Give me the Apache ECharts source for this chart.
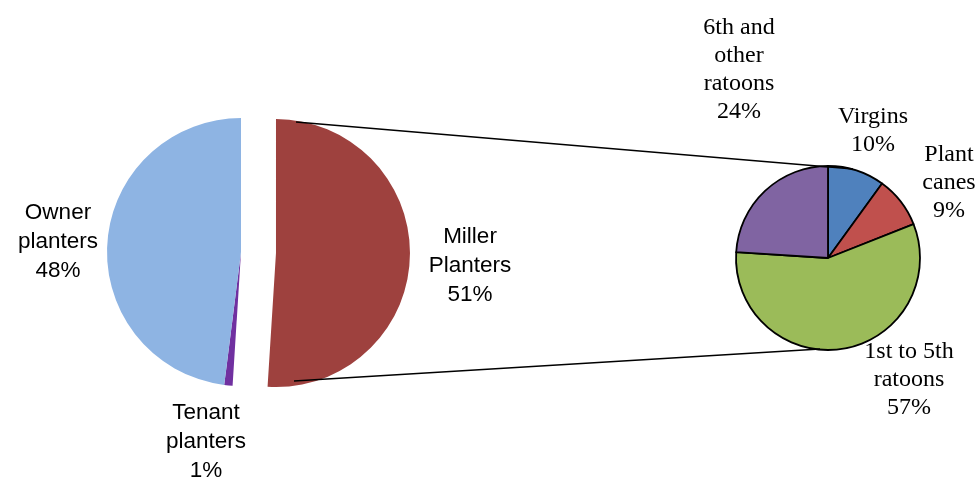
<!DOCTYPE html>
<html>
<head>
<meta charset="utf-8">
<script src="https://cdn.jsdelivr.net/npm/echarts@6/dist/echarts.min.js"></script>
<style>html,body{margin:0;padding:0;background:#fff}#c{width:980px;height:478px}</style>
</head>
<body>
<div id="c"></div>
<script>
// Left pie: planter types
const planterCategories = ['Miller\nPlanters', 'Tenant\nplanters', 'Owner\nplanters'];
const planterValues = [51, 1, 48];
const planterColors = ['#9E413E', '#7030A0', '#8EB4E3'];

// Right pie: breakdown of Miller planters' cane
const caneCategories = ['Virgins', 'Plant\ncanes', '1st to 5th\nratoons', '6th and\nother\nratoons'];
const caneValues = [10, 9, 57, 24];
const caneColors = ['#4F81BD', '#C0504D', '#9BBB59', '#8064A2'];

// layout
const L = {cx: 241, cy: 252, r: 134, explode: 35};
const R = {cx: 828, cy: 258, r: 92};
const leftLabelPos = [[470, 266], [206, 442], [58, 242]];
const rightLabelPos = [[873, 131], [949, 183], [909, 380], [739, 70]];

// exploded slice (index 0) offset along its mid angle
const total = planterValues.reduce((a, b) => a + b, 0);
const midA = (planterValues[0] / 2) / total * 2 * Math.PI;
const exCenter = [L.cx + L.explode * Math.sin(midA), L.cy - L.explode * Math.cos(midA)];

const leftLabel = {
  show: true,
  formatter: p => p.name + '\n' + p.value + '%',
  fontFamily: 'Liberation Sans',
  fontSize: 22.5,
  lineHeight: 29,
  color: '#000',
  align: 'center'
};
const hidden = {itemStyle: {color: 'rgba(0,0,0,0)'}, label: {show: false}};

const explodedData = planterCategories.map((n, i) => i === 0
  ? {name: n, value: planterValues[i], itemStyle: {color: planterColors[i]}}
  : Object.assign({name: '_' + i, value: planterValues[i]}, hidden));
const restData = planterCategories.map((n, i) => i === 0
  ? Object.assign({name: '_' + i, value: planterValues[i]}, hidden)
  : {name: n, value: planterValues[i], itemStyle: {color: planterColors[i]}});

const chart = echarts.init(document.getElementById('c'), null, {renderer: 'canvas'});
const leftSeries = (center, data) => ({
  type: 'pie',
  center: center,
  radius: [0, L.r],
  startAngle: 90,
  clockwise: true,
  silent: true,
  avoidLabelOverlap: false,
  emphasis: {disabled: true},
  itemStyle: {borderWidth: 0},
  label: leftLabel,
  labelLine: {show: false},
  labelLayout: p => ({x: leftLabelPos[p.dataIndex][0], y: leftLabelPos[p.dataIndex][1], align: 'center', verticalAlign: 'middle'}),
  data: data
});
chart.setOption({
  animation: false,
  backgroundColor: '#fff',
  series: [
    leftSeries(exCenter, explodedData),
    leftSeries([L.cx, L.cy], restData),
    {
      type: 'pie',
      center: [R.cx, R.cy],
      radius: [0, R.r],
      startAngle: 90,
      clockwise: true,
      silent: true,
      avoidLabelOverlap: false,
      emphasis: {disabled: true},
      itemStyle: {borderWidth: 1.8, borderColor: '#000'},
      label: {
        show: true,
        formatter: p => p.name + '\n' + p.value + '%',
        fontFamily: 'Liberation Serif',
        fontSize: 24,
        lineHeight: 28,
        color: '#000',
        align: 'center'
      },
      labelLine: {show: false},
      labelLayout: p => ({x: rightLabelPos[p.dataIndex][0], y: rightLabelPos[p.dataIndex][1], align: 'center', verticalAlign: 'middle'}),
      data: caneCategories.map((n, i) => ({name: n, value: caneValues[i], itemStyle: {color: caneColors[i]}}))
    }
  ],
  graphic: [
    {type: 'line', z: 100, shape: {x1: exCenter[0] + 20, y1: exCenter[1] - L.r + 3, x2: R.cx + 25, y2: R.cy - R.r + 3}, style: {stroke: '#000', lineWidth: 1.5}},
    {type: 'line', z: 100, shape: {x1: exCenter[0] + 18, y1: exCenter[1] + L.r - 6, x2: R.cx - 8, y2: R.cy + R.r - 1}, style: {stroke: '#000', lineWidth: 1.5}}
  ]
});
</script>
</body>
</html>
